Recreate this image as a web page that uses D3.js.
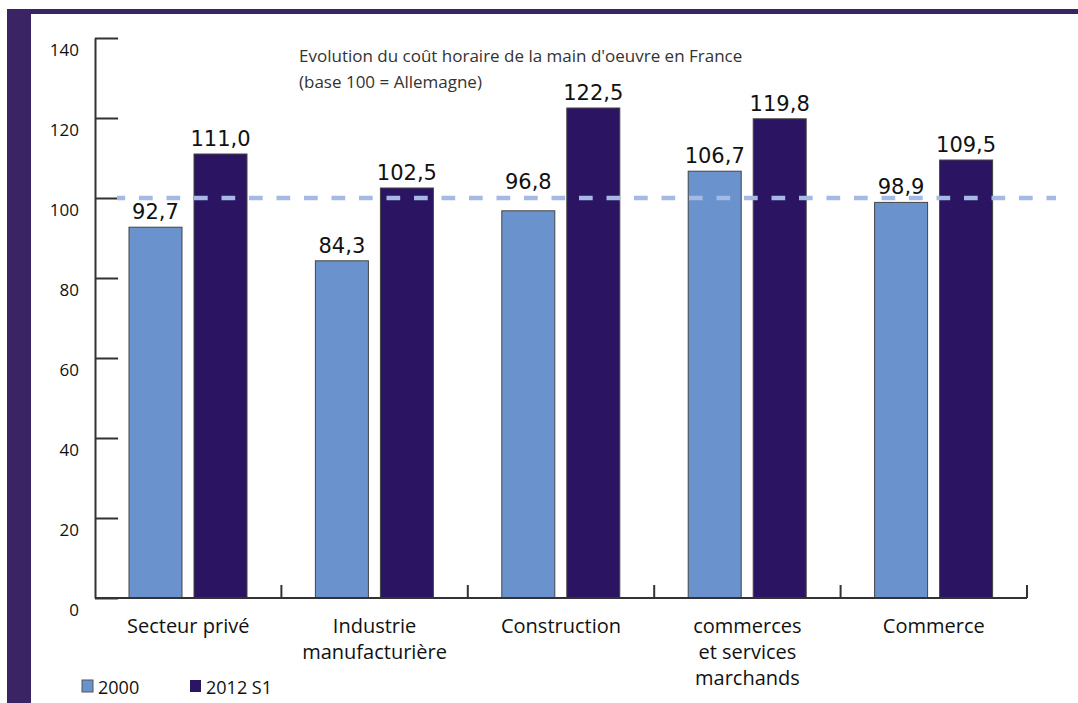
<!DOCTYPE html>
<html>
<head>
<meta charset="utf-8">
<script src="https://cdn.jsdelivr.net/npm/d3@7"></script>
<style>
  body { margin: 0; background: #fff; }
  text { font-family: "Open Sans", sans-serif; fill: #111; }
</style>
</head>
<body>
<div id="chart"></div>
<script>
// Coût horaire de la main d'oeuvre, France vs Allemagne (base 100)

let categories = ["Secteur privé", "Industrie manufacturière", "Construction", "commerces et services marchands", "Commerce"];
let categoryLines = [["Secteur privé"], ["Industrie", "manufacturière"], ["Construction"], ["commerces", "et services", "marchands"], ["Commerce"]];
let series = ["2000", "2012 S1"];
let values2000 = [92.7, 84.3, 96.8, 106.7, 98.9];
let values2012 = [111.0, 102.5, 122.5, 119.8, 109.5];
let yTicks = [0, 20, 40, 60, 80, 100, 120, 140];
let baseLine = 100;
let titleLines = ["Evolution du coût horaire de la main d'oeuvre en France", "(base 100 = Allemagne)"];

let svgWidth = 1078;
let svgHeight = 703;
let colors = { "2000": "#6a93cd", "2012 S1": "#2b1461" };

let svg = d3.select("#chart")
    .append("svg")
    .attr("width", svgWidth)
    .attr("height", svgHeight);

// frame (purple strip left + top line)
svg.append("rect").attr("x", 7).attr("y", 9).attr("width", 24).attr("height", svgHeight - 9).attr("fill", "#3a2463");
svg.append("rect").attr("x", 7).attr("y", 9).attr("width", svgWidth - 7).attr("height", 5).attr("fill", "#3a2463");

// scales
let x0 = d3.scaleBand().domain(categories).range([95, 1027]).padding(0);
let x1 = d3.scaleBand().domain(series).range([34, 152]).paddingInner(0.1846);
let y = d3.scaleLinear().domain([0, 140]).range([598, 38]);

let rows = categories.map((c, i) => ({ cat: c, lines: categoryLines[i], vals: [values2000[i], values2012[i]] }));

// y axis, ticks pointing right
let yAxis = svg.append("g")
    .attr("transform", "translate(95,0)")
    .call(d3.axisLeft(y).tickValues(yTicks).tickSize(-23).tickSizeOuter(0).tickPadding(16));
yAxis.selectAll("line").attr("stroke", "#333").attr("stroke-width", 2);
yAxis.select(".domain").attr("stroke", "#333").attr("stroke-width", 2);
yAxis.selectAll("text")
    .attr("dy", "1em")
    .style("font-family", "'Open Sans', sans-serif")
    .style("font-size", "17px")
    .attr("fill", "#111");

// bars
let groups = svg.selectAll(".grp")
    .data(rows)
    .enter()
    .append("g")
    .attr("class", "grp")
    .attr("transform", d => `translate(${x0(d.cat)},0)`);

groups.selectAll("rect")
    .data(d => series.map((s, j) => ({ s: s, v: d.vals[j] })))
    .enter()
    .append("rect")
    .attr("x", d => x1(d.s))
    .attr("y", d => y(d.v))
    .attr("width", x1.bandwidth())
    .attr("height", d => y(0) - y(d.v))
    .attr("fill", d => colors[d.s])
    .attr("stroke", "#444")
    .attr("stroke-width", 1);

// value labels (lifted above the 100 line when they would sit on it)
function labelY(v) {
    let base = y(v) - 8;
    let lineY = y(baseLine);
    if (base - 17 < lineY + 3 && base > lineY - 3) base = lineY - 9;
    return base;
}
groups.selectAll(".val")
    .data(d => series.map((s, j) => ({ s: s, v: d.vals[j] })))
    .enter()
    .append("text")
    .attr("class", "val")
    .attr("x", d => x1(d.s) + x1.bandwidth() / 2)
    .attr("y", d => labelY(d.v))
    .attr("text-anchor", "middle")
    .style("font-family", "'DejaVu Sans', sans-serif")
    .style("font-size", "21px")
    .text(d => d3.format(".1f")(d.v).replace(".", ","));

// baseline 100 dashed, drawn over the bars
svg.append("line")
    .attr("x1", 117).attr("x2", 1056)
    .attr("y1", y(baseLine)).attr("y2", y(baseLine))
    .attr("stroke", "#a4b9e3")
    .attr("stroke-width", 4.5)
    .attr("stroke-dasharray", "13.7,13.8")
    .attr("stroke-dashoffset", 5.5);

// x axis baseline with ticks at group boundaries
let xPath = `M95,${y(0)}H1027`;
categories.forEach(c => {
    let bx = x0(c) + x0.bandwidth();
    xPath += `M${bx},${y(0)}V${y(0) - 13}`;
});
svg.append("path").attr("d", xPath).attr("stroke", "#333").attr("stroke-width", 2).attr("fill", "none");

// category labels
groups.append("text")
    .attr("text-anchor", "middle")
    .style("font-size", "20px")
    .selectAll("tspan")
    .data(d => d.lines)
    .enter()
    .append("tspan")
    .attr("x", x0.bandwidth() / 2)
    .attr("y", (d, i) => 633 + i * 26)
    .text(d => d);

// title
svg.append("g").selectAll("text")
    .data(titleLines)
    .enter()
    .append("text")
    .attr("x", 299)
    .attr("y", (d, i) => 62 + i * 26)
    .style("font-size", "17px")
    .style("fill", "#333")
    .text(d => d);

// legend
let legend = svg.selectAll(".leg")
    .data(series)
    .enter()
    .append("g")
    .attr("class", "leg")
    .attr("transform", (d, i) => `translate(${82 + i * 108},680)`);
legend.append("rect")
    .attr("width", 11).attr("height", 12)
    .attr("fill", d => colors[d])
    .attr("stroke", d => d === "2000" ? "#555" : "none");
legend.append("text")
    .attr("x", 16).attr("y", 14)
    .style("font-size", "18px")
    .text(d => d);
</script>
</body>
</html>
